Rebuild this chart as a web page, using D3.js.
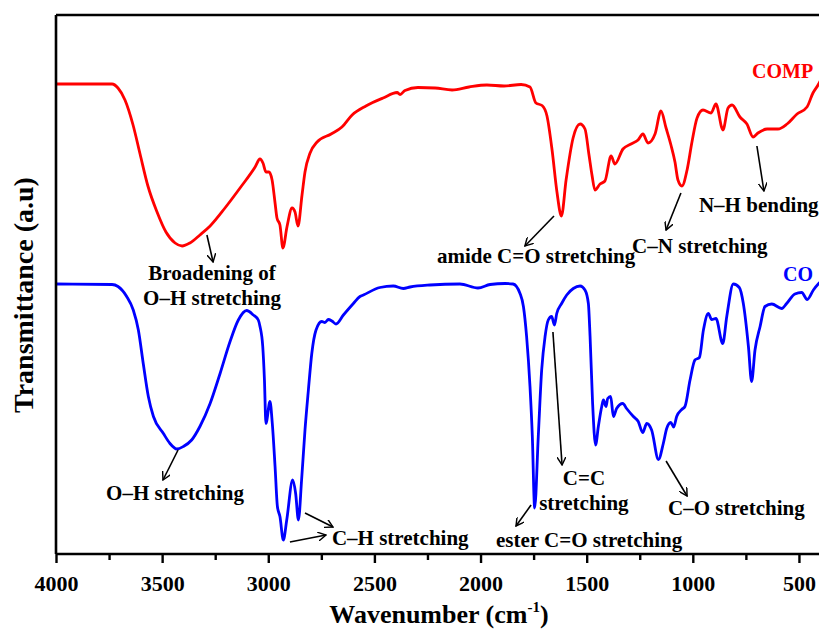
<!DOCTYPE html>
<html>
<head>
<meta charset="utf-8">
<script src="https://cdn.jsdelivr.net/npm/d3@7"></script>
<style>
  html, body { margin: 0; padding: 0; background: #fff; }
  svg { display: block; }
  text { font-family: "Liberation Serif", "Times New Roman", serif; font-weight: bold; }
</style>
</head>
<body>
<svg id="chart" width="819" height="629"></svg>
<script>
// FTIR spectra: [wavenumber (cm-1), transmittance (a.u.)]
const compSpectrum = [
  [4000, 94.0], [3840, 94.0], [3736, 94.0], [3708, 93.2], [3675, 90.8], [3637, 85.8],
  [3604, 80.0], [3567, 73.6], [3524, 68.4], [3482, 64.4], [3439, 62.2], [3406, 61.6],
  [3369, 62.2], [3322, 63.8], [3274, 65.6], [3204, 69.2], [3133, 73.2], [3062, 77.4],
  [3039, 79.0], [3025, 78.2], [3011, 76.4], [2997, 76.4], [2982, 74.8], [2968, 70.2],
  [2959, 67.2], [2945, 65.8], [2931, 61.2], [2912, 65.4], [2888, 69.2], [2874, 68.4],
  [2860, 65.6], [2841, 71.8], [2827, 76.4], [2803, 80.2], [2770, 82.4], [2704, 84.0],
  [2653, 85.4], [2605, 87.8], [2540, 89.6], [2459, 91.2], [2393, 92.3], [2379, 91.9],
  [2356, 92.7], [2295, 93.3], [2214, 93.2], [2134, 92.8], [2054, 93.4], [1970, 93.8],
  [1889, 93.6], [1809, 93.9], [1767, 93.4], [1739, 90.2], [1710, 89.7], [1687, 87.6],
  [1663, 80.8], [1640, 72.4], [1619, 67.6], [1597, 74.8], [1564, 83.2], [1531, 86.0],
  [1508, 85.0], [1489, 79.8], [1475, 75.8], [1461, 72.8], [1437, 74.0], [1414, 74.6],
  [1385, 79.6], [1367, 78.0], [1329, 81.0], [1291, 82.0], [1258, 82.8], [1235, 84.0],
  [1211, 82.2], [1178, 84.0], [1150, 88.6], [1126, 85.2], [1103, 81.8], [1084, 78.4],
  [1070, 74.8], [1051, 73.6], [1027, 76.8], [1004, 82.4], [980, 87.2], [952, 88.8],
  [914, 88.2], [891, 90.0], [858, 84.8], [834, 89.2], [815, 89.8], [778, 87.4],
  [745, 86.0], [716, 83.4], [693, 84.2], [650, 85.0], [599, 85.0], [556, 86.0],
  [509, 88.0], [462, 89.4], [434, 92.2], [410, 93.8], [400, 94.6]
];

const coSpectrum = [
  [4000, 54.0], [3736, 53.9], [3708, 53.5], [3667, 51.5], [3636, 48.8], [3612, 44.8],
  [3589, 38.1], [3565, 31.5], [3541, 27.5], [3494, 24.1], [3463, 22.1], [3431, 21.0],
  [3400, 21.5], [3361, 22.8], [3322, 25.5], [3274, 30.1], [3227, 36.1], [3180, 42.5],
  [3141, 46.8], [3102, 48.7], [3070, 47.8], [3047, 46.8], [3039, 45.5], [3026, 41.5],
  [3018, 34.8], [3011, 26.1], [2992, 30.5], [2981, 26.1], [2968, 17.5], [2957, 9.5],
  [2945, 7.5], [2929, 2.8], [2913, 6.8], [2885, 14.8], [2871, 12.1], [2858, 6.8],
  [2843, 14.8], [2827, 24.8], [2811, 32.8], [2795, 40.1], [2775, 44.8], [2748, 46.5],
  [2733, 46.3], [2717, 46.9], [2700, 46.6], [2681, 46.0], [2646, 47.8], [2599, 50.1],
  [2568, 51.5], [2552, 51.8], [2474, 53.3], [2411, 53.6], [2364, 53.1], [2332, 53.4],
  [2238, 53.8], [2097, 54.0], [2012, 53.2], [1955, 53.9], [1885, 54.1], [1847, 54.0],
  [1814, 52.1], [1798, 49.5], [1783, 43.5], [1767, 33.5], [1756, 23.5], [1745, 9.2],
  [1728, 23.5], [1712, 36.8], [1696, 43.5], [1681, 46.8], [1665, 47.5], [1652, 45.8],
  [1641, 48.1], [1618, 50.1], [1594, 51.8], [1563, 53.1], [1531, 53.6], [1508, 52.8],
  [1492, 50.1], [1484, 43.5], [1472, 30.1], [1458, 21.8], [1445, 25.5], [1429, 29.5],
  [1421, 30.8], [1409, 29.5], [1401, 31.1], [1387, 31.5], [1374, 27.5], [1359, 29.1],
  [1330, 30.1], [1312, 29.1], [1280, 27.5], [1257, 26.5], [1236, 24.3], [1217, 26.1],
  [1194, 24.8], [1162, 18.9], [1139, 22.1], [1123, 25.1], [1104, 26.3], [1090, 25.4],
  [1076, 27.5], [1052, 28.9], [1037, 29.5], [1013, 34.8], [990, 38.8], [969, 39.3],
  [950, 44.8], [927, 48.1], [911, 46.9], [891, 47.1], [859, 42.1], [840, 47.5],
  [809, 54.0], [781, 53.3], [762, 50.1], [738, 41.5], [723, 34.5], [707, 40.8],
  [683, 45.5], [660, 49.5], [628, 50.0], [581, 49.1], [558, 50.1], [519, 52.0],
  [487, 52.3], [461, 50.9], [432, 52.8], [409, 54.0], [400, 54.4]
];

const majorTicks = [4000, 3500, 3000, 2500, 2000, 1500, 1000, 500];
const minorTicks = [3750, 3250, 2750, 2250, 1750, 1250, 750];
const seriesNames = ["COMP", "CO"];
const seriesColors = ["#ff0000", "#0000ff"];

const svg = d3.select("#chart");
const plotLeft = 56, plotTop = 15, plotBottom = 554, plotRightEdge = 830;

const x = d3.scaleLinear().domain([4000, 400]).range([plotLeft, plotLeft + 3600 / 4.711]);
const y = d3.scaleLinear().domain([0, 107.8]).range([plotBottom, plotTop]);

// arrowhead marker (open V)
svg.append("defs").append("marker")
  .attr("id", "arrow")
  .attr("viewBox", "0 0 10 10")
  .attr("refX", 9).attr("refY", 5)
  .attr("markerWidth", 9).attr("markerHeight", 9)
  .attr("markerUnits", "userSpaceOnUse")
  .attr("orient", "auto")
  .append("path")
  .attr("d", "M0,0 L9,5 L0,10")
  .attr("fill", "none")
  .attr("stroke", "#000")
  .attr("stroke-width", 1.6);

// spectra
const line = d3.line()
  .x(d => x(d[0]))
  .y(d => y(d[1]))
  .curve(d3.curveMonotoneX);

[compSpectrum, coSpectrum].forEach((s, i) => {
  svg.append("path")
    .datum(s)
    .attr("d", line)
    .attr("fill", "none")
    .attr("stroke", seriesColors[i])
    .attr("stroke-width", 2.8)
    .attr("stroke-linejoin", "round");
});

// frame: left and top edges
svg.append("line").attr("x1", plotLeft).attr("x2", plotLeft).attr("y1", plotTop).attr("y2", plotBottom)
  .attr("stroke", "#000").attr("stroke-width", 2.6);
svg.append("line").attr("x1", plotLeft).attr("x2", plotRightEdge).attr("y1", plotTop).attr("y2", plotTop)
  .attr("stroke", "#000").attr("stroke-width", 2.6);

// bottom axis
const xAxis = d3.axisBottom(x)
  .tickValues(majorTicks)
  .tickSize(9)
  .tickPadding(12)
  .tickFormat(d3.format("d"));
const gx = svg.append("g").attr("transform", `translate(0,${plotBottom})`).call(xAxis);
gx.select(".domain").attr("stroke-width", 2.6).attr("d", `M${plotLeft},0H${plotRightEdge}`);
gx.selectAll(".tick line").attr("stroke-width", 2.4);
gx.selectAll(".tick text")
  .attr("font-size", 22)
  .attr("font-family", "'Liberation Serif', 'Times New Roman', serif")
  .attr("font-weight", "bold")
  .attr("fill", "#000");
const gxMinor = svg.append("g").attr("transform", `translate(0,${plotBottom})`)
  .call(d3.axisBottom(x).tickValues(minorTicks).tickSize(6).tickFormat(""));
gxMinor.select(".domain").remove();
gxMinor.selectAll(".tick line").attr("stroke-width", 2.4);

// axis titles
const xTitle = svg.append("text")
  .attr("x", 439).attr("y", 623)
  .attr("text-anchor", "middle")
  .attr("font-size", 26);
xTitle.append("tspan").text("Wavenumber (cm");
xTitle.append("tspan").attr("font-size", 15).attr("dy", -11).text("-1");
xTitle.append("tspan").attr("dy", 11).text(")");

svg.append("text")
  .attr("transform", "translate(33,295) rotate(-90)")
  .attr("text-anchor", "middle")
  .attr("font-size", 28)
  .text("Transmittance (a.u)");

// series labels
svg.append("text").attr("x", x(721)).attr("y", y(95.2))
  .attr("font-size", 20).attr("fill", seriesColors[0]).text(seriesNames[0]);
svg.append("text").attr("x", x(575)).attr("y", y(54.6))
  .attr("font-size", 20).attr("fill", seriesColors[1]).text(seriesNames[1]);

// band assignments: [text lines, wavenumber, T, anchor]
const labels = [
  [["Broadening of", "O\u2013H stretching"], 3265, 54.8, "middle"],
  [["amide C=O stretching"], 2205, 58.2, "start"],
  [["C\u2013N stretching"], 1286, 60.2, "start"],
  [["N\u2013H bending"], 971, 68.4, "start"],
  [["O\u2013H stretching"], 3764, 10.8, "start"],
  [["C\u2013H stretching"], 2700, 1.8, "start"],
  [["C=C", "stretching"], 1513, 13.8, "middle"],
  [["ester C=O stretching"], 1927, 1.4, "start"],
  [["C\u2013O stretching"], 1117, 7.8, "start"]
];
labels.forEach(([lines, wn, t, anchor]) => {
  const tx = svg.append("text")
    .attr("x", x(wn)).attr("y", y(t))
    .attr("text-anchor", anchor)
    .attr("font-size", 21)
    .attr("fill", "#000");
  lines.forEach((s, i) => {
    tx.append("tspan").attr("x", x(wn)).attr("dy", i === 0 ? 0 : 25).text(s);
  });
});

// arrows from bands to labels: [wn1, T1, wn2, T2]
const arrows = [
  [3289, 63.8, 3260, 58.4],
  [1654, 67.6, 1791, 61.6],
  [1056, 72.2, 1126, 64.8],
  [698, 81.6, 665, 72.6],
  [3425, 20.8, 3496, 14.8],
  [2827, 8.2, 2695, 5.4],
  [2898, 2.4, 2728, 3.8],
  [1659, 44.4, 1616, 17.8],
  [1762, 9.8, 1833, 5.6],
  [1126, 18.6, 1027, 11.6]
];
svg.selectAll("line.arrow").data(arrows).enter().append("line")
  .attr("class", "arrow")
  .attr("x1", d => x(d[0])).attr("y1", d => y(d[1]))
  .attr("x2", d => x(d[2])).attr("y2", d => y(d[3]))
  .attr("stroke", "#000").attr("stroke-width", 1.6)
  .attr("marker-end", "url(#arrow)");
</script>
</body>
</html>
